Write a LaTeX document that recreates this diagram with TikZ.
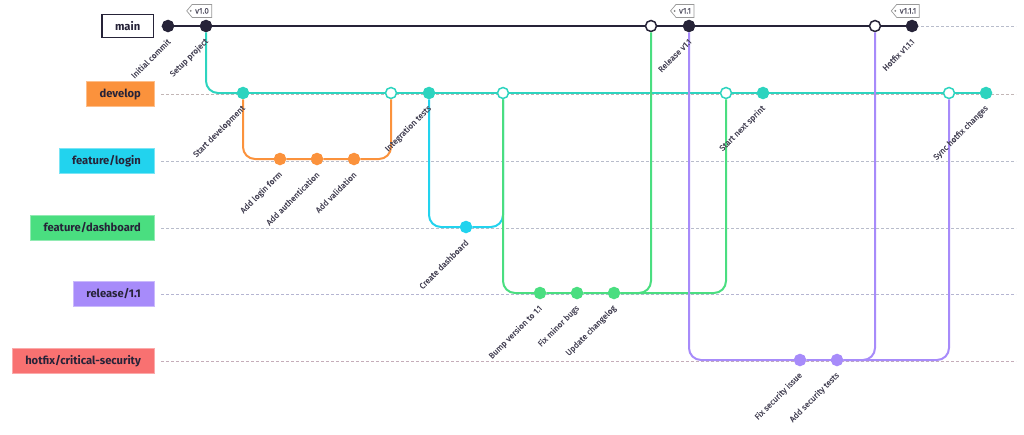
\documentclass[tikz,border=0pt]{standalone}
\usepackage{fontspec}
\setmainfont{Fira Sans}
\newfontfamily\msgfont[FakeBold=0.35]{Fira Sans}
\usetikzlibrary{positioning, shapes.symbols}
\definecolor{ink}{HTML}{262338}
\definecolor{orng}{HTML}{FB923C}
\definecolor{teal}{HTML}{2DD4BF}
\definecolor{cyn}{HTML}{22D3EE}
\definecolor{grn}{HTML}{4ADE80}
\definecolor{prpl}{HTML}{A78BFA}
\definecolor{rd}{HTML}{F87171}
\definecolor{guidegray}{HTML}{B8BCCB}
\tikzstyle{branch} = [rectangle, anchor=east, minimum height=25pt, inner xsep=13pt, text=ink, font=\fontsize{11.2}{13}\selectfont\bfseries]
\tikzstyle{commit} = [circle, minimum size=11pt, inner sep=0pt, line width=1.5pt]
\tikzstyle{merge} = [commit, fill=white]
\tikzstyle{msg} = [rotate=45, anchor=east, inner sep=0pt, text=ink!85, font=\msgfont\fontsize{8.2}{9}\selectfont]
\tikzstyle{tagbox} = [signal, signal to=west, signal pointer angle=100, draw=gray!80, fill=white, line width=0.7pt, text=ink!80, font=\msgfont\fontsize{8}{9}\selectfont, inner xsep=3pt, inner ysep=1.5pt, minimum height=13pt]
\tikzstyle{guide} = [dash pattern=on 3pt off 2pt, line width=0.8pt, draw=guidegray]
\tikzstyle{line} = [line width=2pt, rounded corners=12pt]

\begin{document}
\begin{tikzpicture}[x=1pt, y=-1pt]
	\useasboundingbox (0,0) rectangle (1024,434);
	\coordinate (edge) at (1016,0);
	% branch names
	\node (lmain) [branch, fill=white, draw=ink, line width=1.5pt, minimum height=23pt] at (154,26) {main};
	\node (ldev) [branch, fill=orng, draw=orng!60] at (154,94) {develop};
	\node (llogin) [branch, fill=cyn, draw=cyn!60] at (154,161) {feature/login};
	\node (ldash) [branch, fill=grn, draw=grn!60] at (154,228) {feature/dashboard};
	\node (lrel) [branch, fill=prpl, draw=prpl!60] at (154,294) {release/1.1};
	\node (lhot) [branch, fill=rd, draw=rd!60] at (154,361) {hotfix/critical-security};
	\draw [guide] ([xshift=7pt]lmain.east) -- (lmain.east -| edge);
	\draw [guide, draw=guidegray!85!orng] ([xshift=7pt]ldev.east) -- (ldev.east -| edge);
	\draw [guide] ([xshift=7pt]llogin.east) -- (llogin.east -| edge);
	\draw [guide] ([xshift=7pt]ldash.east) -- (ldash.east -| edge);
	\draw [guide, draw=guidegray!85!prpl] ([xshift=7pt]lrel.east) -- (lrel.east -| edge);
	\draw [guide, draw=guidegray!80!rd] ([xshift=7pt]lhot.east) -- (lhot.east -| edge);
	% main
	\node (init) [commit, fill=ink, draw=ink] at (168,26) {};
	\node (setup) [commit, fill=ink, draw=ink] at (206,26) {};
	\node (relmerge) [merge, draw=ink] at (651,26) {};
	\node (v11) [commit, fill=ink, draw=ink] at (689,26) {};
	\node (hotmerge) [merge, draw=ink] at (875,26) {};
	\node (v111) [commit, fill=ink, draw=ink] at (912,26) {};
	% develop
	\node (startdev) [commit, fill=teal, draw=teal] at (243,93) {};
	\node (loginmerge) [merge, draw=teal] at (391,93) {};
	\node (integ) [commit, fill=teal, draw=teal] at (429,93) {};
	\node (dashmerge) [merge, draw=teal] at (503,93) {};
	\node (relback) [merge, draw=teal] at (726,93) {};
	\node (sprint) [commit, fill=teal, draw=teal] at (763,93) {};
	\node (hotback) [merge, draw=teal] at (949,93) {};
	\node (sync) [commit, fill=teal, draw=teal] at (986,93) {};
	% feature/login
	\node (form) [commit, fill=orng, draw=orng] at (280,159) {};
	\node (auth) [commit, fill=orng, draw=orng] at (317,159) {};
	\node (valid) [commit, fill=orng, draw=orng] at (354,159) {};
	% feature/dashboard
	\node (dash) [commit, fill=cyn, draw=cyn] at (466,227) {};
	% release/1.1
	\node (bump) [commit, fill=grn, draw=grn] at (540,293) {};
	\node (bugs) [commit, fill=grn, draw=grn] at (577,293) {};
	\node (changelog) [commit, fill=grn, draw=grn] at (614,293) {};
	% hotfix
	\node (secfix) [commit, fill=prpl, draw=prpl] at (800,360) {};
	\node (sectest) [commit, fill=prpl, draw=prpl] at (837,360) {};
	% history lines
	\draw [line, ink] (init) -- (setup) -- (relmerge) -- (v11) -- (hotmerge) -- (v111);
	\draw [line, teal] (setup) |- (startdev);
	\draw [line, teal] (startdev) -- (loginmerge) -- (integ) -- (dashmerge) -- (relback) -- (sprint) -- (hotback) -- (sync);
	\draw [line, orng] (startdev) |- (form) -- (auth) -- (valid) -| (loginmerge);
	\draw [line, cyn] (integ) |- (dash) -| (dashmerge);
	\draw [line, grn] (dashmerge) |- (bump) -- (bugs) -- (changelog) -| (relmerge);
	\draw [line, grn] (changelog) -| (relback);
	\draw [line, prpl] (v11) |- (secfix) -- (sectest) -| (hotmerge);
	\draw [line, prpl] (sectest) -| (hotback);
	% tags
	\node (t10) [tagbox, above=2pt of setup, xshift=-4pt] {v1.0};
	\node (t11) [tagbox, above=2pt of v11, xshift=-4pt] {v1.1};
	\node (t111) [tagbox, above=2pt of v111, xshift=-4pt] {v1.1.1};
	\fill [gray] ([xshift=4.5pt]t10.west) circle (1pt);
	\fill [gray] ([xshift=4.5pt]t11.west) circle (1pt);
	\fill [gray] ([xshift=4.5pt]t111.west) circle (1pt);
	% commit messages
	\node (m-init) [msg] at ([shift={(1,14)}]init.center) {Initial commit};
	\node (m-setup) [msg] at ([shift={(1,14)}]setup.center) {Setup project};
	\node (m-v11) [msg] at ([shift={(1,14)}]v11.center) {Release v1.1};
	\node (m-v111) [msg] at ([shift={(1,14)}]v111.center) {Hotfix v1.1.1};
	\node (m-startdev) [msg] at ([shift={(1,14)}]startdev.center) {Start development};
	\node (m-integ) [msg] at ([shift={(1,14)}]integ.center) {Integration tests};
	\node (m-sprint) [msg] at ([shift={(1,14)}]sprint.center) {Start next sprint};
	\node (m-sync) [msg] at ([shift={(1,14)}]sync.center) {Sync hotfix changes};
	\node (m-form) [msg] at ([shift={(1,14)}]form.center) {Add login form};
	\node (m-auth) [msg] at ([shift={(1,14)}]auth.center) {Add authentication};
	\node (m-valid) [msg] at ([shift={(1,14)}]valid.center) {Add validation};
	\node (m-dash) [msg] at ([shift={(1,14)}]dash.center) {Create dashboard};
	\node (m-bump) [msg] at ([shift={(1,14)}]bump.center) {Bump version to 1.1};
	\node (m-bugs) [msg] at ([shift={(1,14)}]bugs.center) {Fix minor bugs};
	\node (m-changelog) [msg] at ([shift={(1,14)}]changelog.center) {Update changelog};
	\node (m-secfix) [msg] at ([shift={(1,14)}]secfix.center) {Fix security issue};
	\node (m-sectest) [msg] at ([shift={(1,14)}]sectest.center) {Add security tests};
\end{tikzpicture}
\end{document}
